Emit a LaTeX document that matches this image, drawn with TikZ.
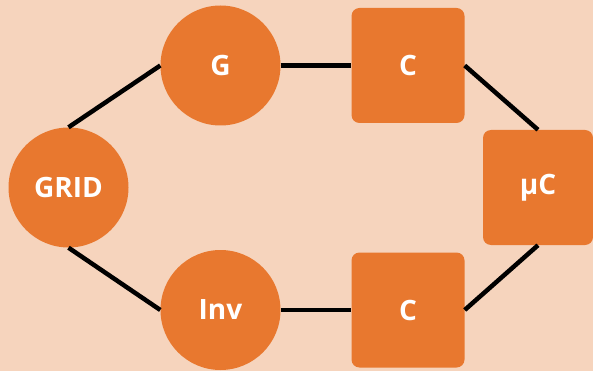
\documentclass[tikz,border=0pt]{standalone}
\usepackage{fontspec}
\setmainfont{Open Sans}
\definecolor{bgpeach}{HTML}{F6D4BD}
\definecolor{nodeorange}{HTML}{E8782F}
\begin{document}
\begin{tikzpicture}[x=1pt,y=-1pt,
  base/.style={fill=nodeorange,draw=none,text=white,font=\fontsize{28}{32}\selectfont\bfseries,inner sep=0pt},
  roundnode/.style={base,circle,minimum size=120pt},
  boxnode/.style={base,rectangle,rounded corners=8pt,minimum width=113pt,minimum height=115pt},
  link/.style={line width=4.5pt,black}]
\fill[bgpeach] (0,0) rectangle (593,371);
\useasboundingbox (0,0) rectangle (593,371);
\node[roundnode] (grid) at (68.5,187.5) {GRID};
\node[roundnode] (g) at (220.5,65.5) {G};
\node[roundnode] (inv) at (220.5,310) {Inv};
\node[boxnode] (c1) at (408,65.5) {C};
\node[boxnode] (c2) at (408,310) {C};
\node[boxnode,minimum width=110pt] (uc) at (538,187.5) {µC};
\draw[link] (grid.north) -- (g.west);
\draw[link] (grid.south) -- (inv.west);
\draw[link] (g.east) -- (c1.west);
\draw[link] (inv.east) -- (c2.west);
\draw[link] (c1.east) -- (uc.north);
\draw[link] (c2.east) -- (uc.south);
\end{tikzpicture}
\end{document}
